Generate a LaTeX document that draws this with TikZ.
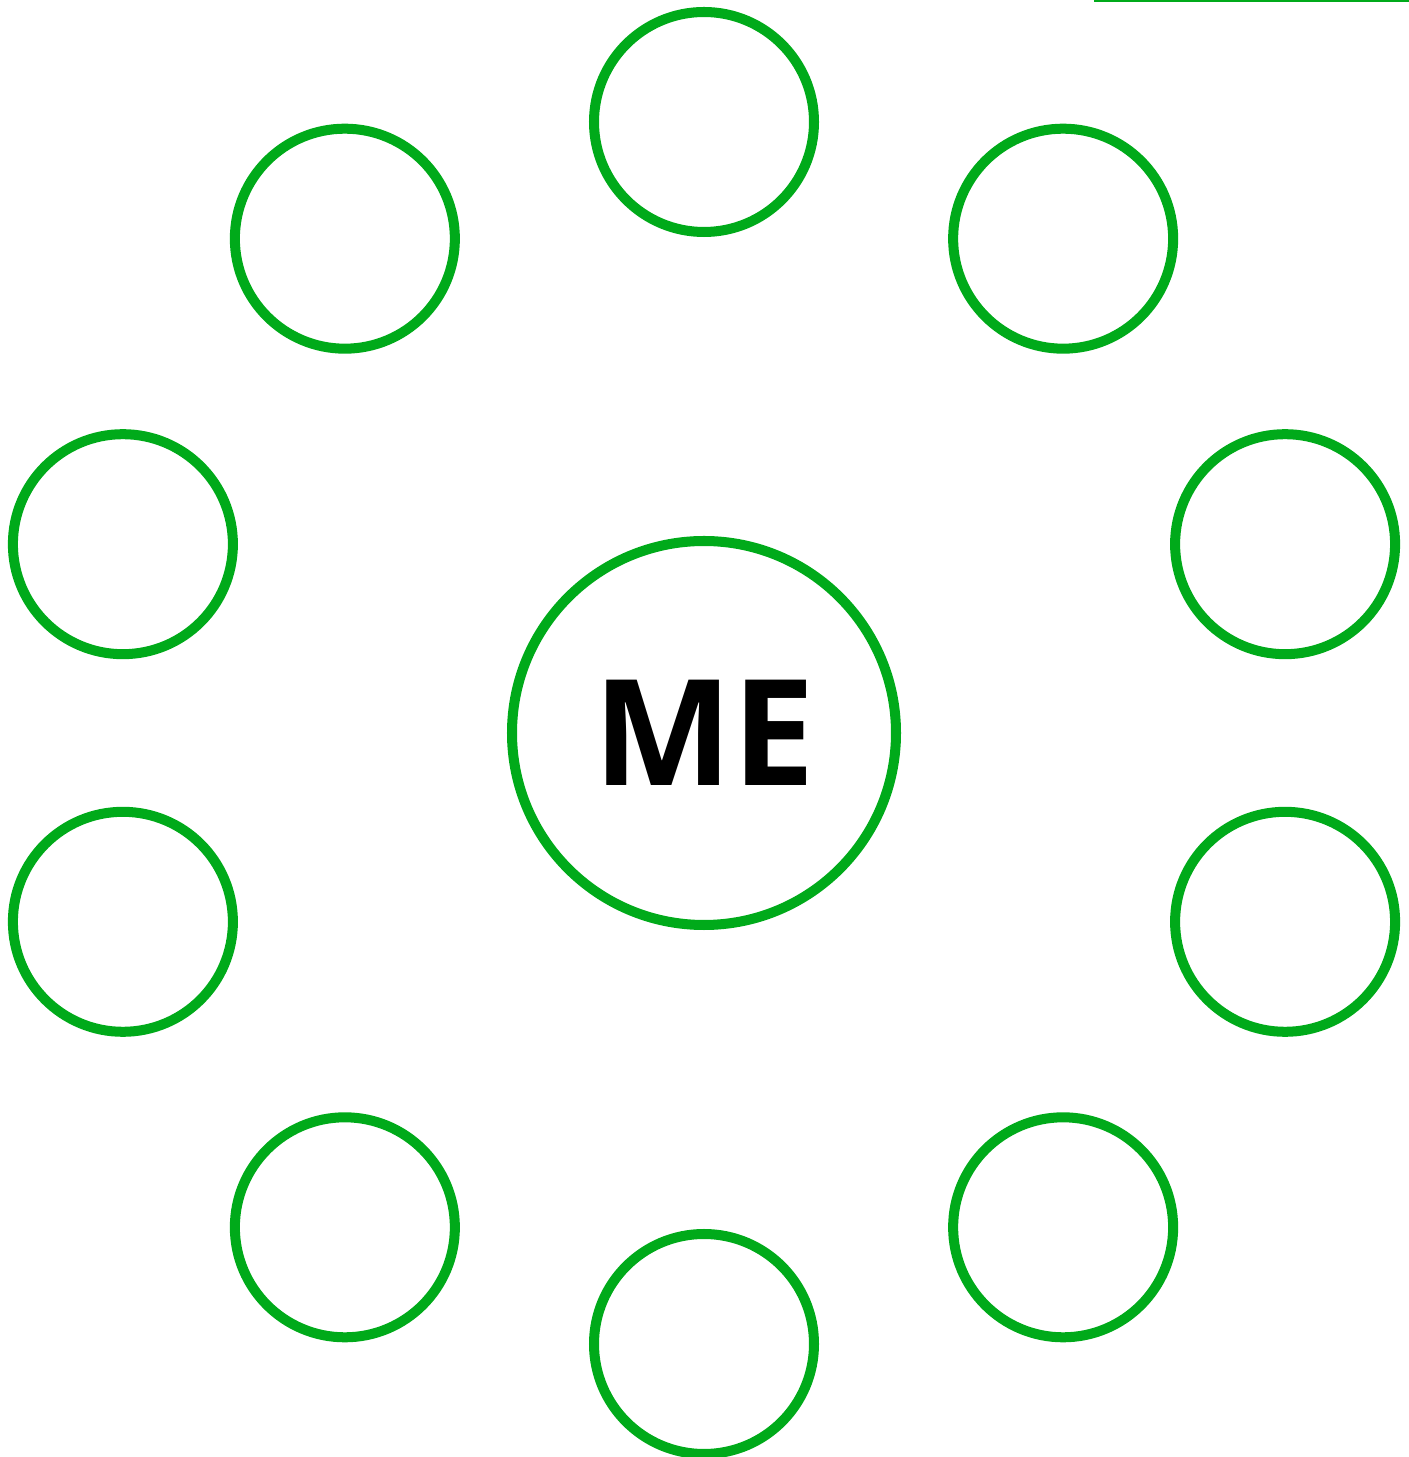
\documentclass[tikz,border=0pt]{standalone}
\usepackage{fontspec}
\setmainfont{Open Sans}
\usepackage{tikz}
\usetikzlibrary{positioning,calc}
\usepackage{xcolor}
\definecolor{ringgreen}{RGB}{0,170,26}

\begin{document}
\begin{tikzpicture}[
  ringnode/.style={circle,draw=ringgreen,line width=2.85pt,fill=white,inner sep=0pt},
  friend/.style={ringnode,minimum size=2.2cm},
  centre/.style={ringnode,minimum size=3.84cm,font=\fontsize{42}{42}\selectfont\bfseries}
]
\useasboundingbox (0,0) rectangle (14.09,14.57);
% centre circle
\node[centre] (me) at (7.04,7.24) {ME};
% ten circles round the centre, 36 deg apart
\foreach \i in {0,...,9} {
  \node[friend] (friend\i) at ($(me)+({90+36*\i}:6.11)$) {};
}
% green rule cut by the top edge
\coordinate (ruleL) at (10.94,14.595);
\coordinate (ruleR) at (14.3,14.595);
\draw[ringgreen,line width=2.85pt] (ruleL) -- (ruleR);
\end{tikzpicture}
\end{document}
